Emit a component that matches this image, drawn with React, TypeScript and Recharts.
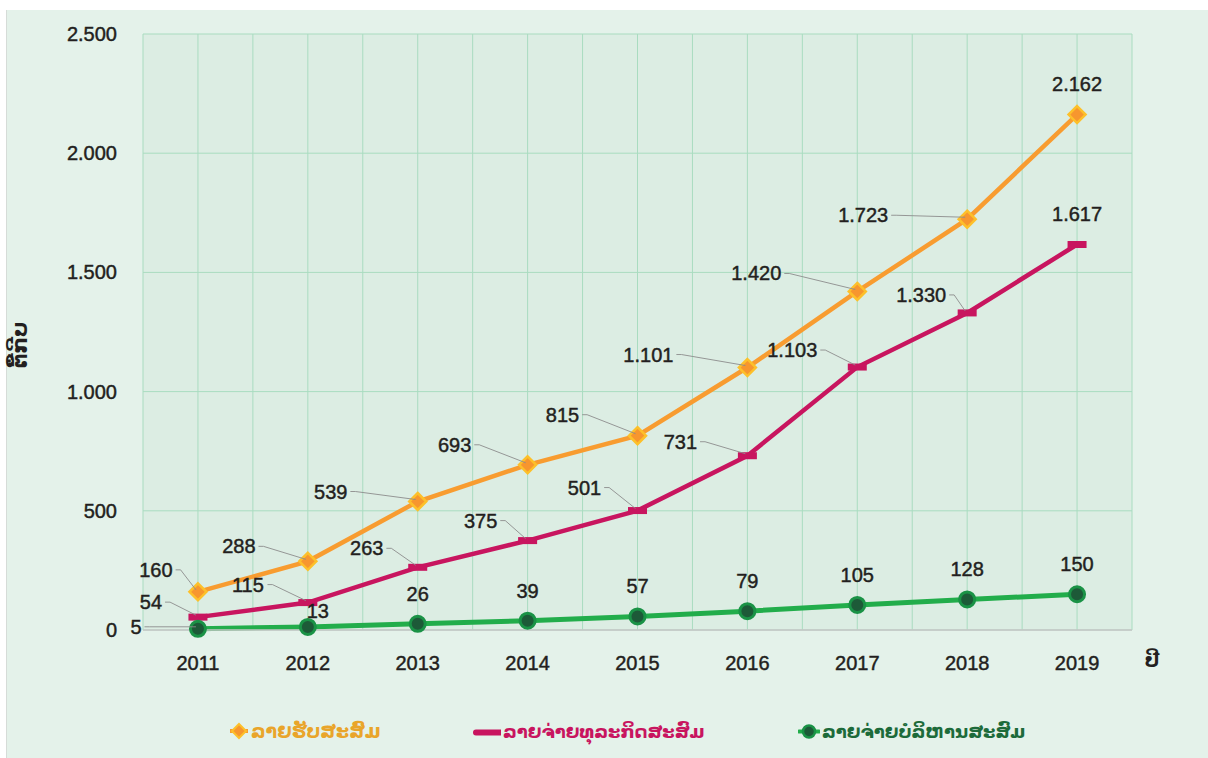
import { LineChart, Line, XAxis, YAxis, CartesianGrid, LabelList } from 'recharts'

// years on the x axis
const years = [2011, 2012, 2013, 2014, 2015, 2016, 2017, 2018, 2019]
// cumulative values (ຕື້ກີບ)
const revenue = [160, 288, 539, 693, 815, 1101, 1420, 1723, 2162]
const businessCost = [54, 115, 263, 375, 501, 731, 1103, 1330, 1617]
const adminCost = [5, 13, 26, 39, 57, 79, 105, 128, 150]

const seriesNames = ['ລາຍຮັບສະສົມ', 'ລາຍຈ່າຍທຸລະກິດສະສົມ', 'ລາຍຈ່າຍບໍລິຫານສະສົມ']
const yTicks = [0, 500, 1000, 1500, 2000, 2500]
const gridTicks = [2010.5, 2011, 2011.5, 2012, 2012.5, 2013, 2013.5, 2014, 2014.5, 2015, 2015.5, 2016, 2016.5, 2017, 2017.5, 2018, 2018.5, 2019, 2019.5]

// label placement relative to each point (layout only)
const revenueLabelPos = [[-42, -22], [-69, -15], [-87, -10], [-73, -20], [-75, -21], [-99, -13], [-101, -18], [-104, -4], [0, -31]]
const businessLabelPos = [[-47, -15], [-60, -18], [-51, -19], [-47, -20], [-53, -23], [-67, -14], [-65, -17], [-46, -18], [0, -31]]
const adminLabelPos = [[-62, -2], [10, -16], [0, -30], [0, -30], [0, -30], [0, -30], [0, -30], [0, -30], [0, -30]]

const data = years.map((y, i) => ({
  year: y,
  revenue: revenue[i],
  business: businessCost[i],
  admin: adminCost[i],
}))

const ORANGE = '#f89c30'
const MAGENTA = '#c8155f'
const GREEN = '#22ad4b'
const TEXT = '#231f20'
const NUM_FONT = "'Liberation Sans', Arial, sans-serif"
const LAO_FONT = "'DejaVu Sans', 'Noto Sans', sans-serif"

const fmt = (v: number) =>
  v >= 1000 ? `${Math.floor(v / 1000)}.${String(v % 1000).padStart(3, '0')}` : String(v)

const textWidth = (s: string) => s.split('').reduce((w, c) => w + (c === '.' ? 5.6 : 11.1), 0)

// slightly heavier digits, the source uses a medium grotesque
const numText = { fontSize: 20, fontFamily: NUM_FONT, fill: TEXT, stroke: TEXT, strokeWidth: 0.45 }

const makeLabel = (pos: number[][]) => (props: any) => {
  const { x, y, value, index } = props
  const [dx, dy] = pos[index]
  const lx = x + dx
  const ly = y + dy
  const s = fmt(Number(value))
  const w = textWidth(s)
  const sx = lx + w / 2 + 3
  return (
    <g key={`lbl-${index}`}>
      {dx < 0 && (
        <polyline
          points={`${sx},${ly} ${sx + 5},${ly} ${x - 2},${y - 2}`}
          fill="none"
          stroke="#8c8c8c"
          strokeWidth={0.9}
        />
      )}
      <text x={lx} y={ly} dy="0.35em" textAnchor="middle" {...numText}>
        {s}
      </text>
    </g>
  )
}

const DiamondDot = (props: any) => {
  const { cx, cy, index } = props
  return (
    <polygon
      key={`d-${index}`}
      points={`${cx},${cy - 8.5} ${cx + 8.5},${cy} ${cx},${cy + 8.5} ${cx - 8.5},${cy}`}
      fill="#f7962e"
      stroke="#fdc02a"
      strokeWidth={2.5}
    />
  )
}

const BarDot = (props: any) => {
  const { cx, cy, index } = props
  return <rect key={`b-${index}`} x={cx - 9.5} y={cy - 3.5} width={19} height={7} fill={MAGENTA} />
}

const CircleDot = (props: any) => {
  const { cx, cy, index } = props
  return <circle key={`c-${index}`} cx={cx} cy={cy} r={7.5} fill="#1d5a38" stroke="#1a9246" strokeWidth={3} />
}

const YTick = (props: any) => {
  const { x, y, payload } = props
  return (
    <text x={x} y={y} dy="0.35em" textAnchor="end" {...numText}>
      {fmt(payload.value)}
    </text>
  )
}

const XTick = (props: any) => {
  const { x, y, payload } = props
  return (
    <text x={x} y={y} dy="0.35em" textAnchor="middle" {...numText}>
      {payload.value}
    </text>
  )
}

const legendColors = ['#e9a52a', MAGENTA, '#1d6b3a']

function LegendIcon({ i }: { i: number }) {
  if (i === 0)
    return (
      <svg width={20} height={20}>
        <line x1={1} y1={10} x2={19} y2={10} stroke={ORANGE} strokeWidth={4} />
        <polygon points="10,3 17,10 10,17 3,10" fill="#f7962e" stroke="#fdc02a" strokeWidth={2} />
      </svg>
    )
  if (i === 1)
    return (
      <svg width={28} height={20}>
        <line x1={3} y1={11} x2={27} y2={11} stroke={MAGENTA} strokeWidth={6} strokeLinecap="round" />
      </svg>
    )
  return (
    <svg width={22} height={20}>
      <line x1={1} y1={10} x2={21} y2={10} stroke={GREEN} strokeWidth={4} strokeLinecap="round" />
      <circle cx={11} cy={10} r={6} fill="#1d5a38" stroke="#1a9246" strokeWidth={2.5} />
    </svg>
  )
}

const legendLeft = [229, 473, 798]
const legendSize = [19, 18, 18]

export default function App() {
  return (
    <div style={{ position: 'absolute', left: 0, top: 0, width: 1208, height: 758, background: '#ffffff', overflow: 'hidden' }}>
      <div
        style={{
          position: 'absolute',
          left: 6,
          top: 10,
          right: 0,
          bottom: 0,
          background: '#e4f2ea',
          borderLeft: '1px solid #d6dcd8',
        }}
      />
      <div style={{ position: 'absolute', left: 0, top: 0 }}>
        <LineChart width={1208} height={758} data={data} margin={{ top: 34, right: 76, left: 43, bottom: 88 }}>
          <CartesianGrid xAxisId="grid" fill="#dcede3" stroke="#a9dcc0" strokeWidth={1} />
          <XAxis xAxisId="grid" type="number" dataKey="year" domain={[2010.5, 2019.5]} ticks={gridTicks} hide />
          <XAxis
            type="number"
            dataKey="year"
            domain={[2010.5, 2019.5]}
            ticks={years}
            height={40}
            tickLine={false}
            axisLine={{ stroke: '#c6c6c6', strokeWidth: 1.5 }}
            tickMargin={27}
            tick={<XTick />}
          />
          <YAxis
            domain={[0, 2500]}
            ticks={yTicks}
            width={100}
            axisLine={false}
            tickLine={false}
            tickMargin={20}
            tick={<YTick />}
          />
          <Line
            dataKey="revenue"
            name={seriesNames[0]}
            type="linear"
            stroke={ORANGE}
            strokeWidth={4.5}
            dot={<DiamondDot />}
            activeDot={false}
            isAnimationActive={false}
          >
            <LabelList dataKey="revenue" content={makeLabel(revenueLabelPos)} />
          </Line>
          <Line
            dataKey="business"
            name={seriesNames[1]}
            type="linear"
            stroke={MAGENTA}
            strokeWidth={4.5}
            dot={<BarDot />}
            activeDot={false}
            isAnimationActive={false}
          >
            <LabelList dataKey="business" content={makeLabel(businessLabelPos)} />
          </Line>
          <Line
            dataKey="admin"
            name={seriesNames[2]}
            type="linear"
            stroke={GREEN}
            strokeWidth={5}
            dot={<CircleDot />}
            activeDot={false}
            isAnimationActive={false}
          >
            <LabelList dataKey="admin" content={makeLabel(adminLabelPos)} />
          </Line>
        </LineChart>
      </div>

      {/* axis titles */}
      <div
        style={{
          position: 'absolute',
          left: 20,
          top: 345,
          transform: 'translate(-50%, -50%) rotate(-90deg)',
          fontFamily: LAO_FONT,
          fontSize: 21,
          fontWeight: 'bold',
          color: TEXT,
          whiteSpace: 'nowrap',
        }}
      >
        ຕື້ກີບ
      </div>
      <div
        style={{
          position: 'absolute',
          left: 1152,
          top: 660,
          transform: 'translate(-50%, -50%)',
          fontFamily: LAO_FONT,
          fontSize: 20,
          fontWeight: 'bold',
          color: TEXT,
        }}
      >
        ປີ
      </div>

      {/* legend */}
      {seriesNames.map((n, i) => (
        <div
          key={n}
          style={{
            position: 'absolute',
            left: legendLeft[i],
            top: 731,
            transform: 'translateY(-50%)',
            display: 'flex',
            alignItems: 'center',
            gap: 2,
            fontFamily: LAO_FONT,
            fontSize: legendSize[i],
            fontWeight: 'bold',
            color: legendColors[i],
            whiteSpace: 'nowrap',
          }}
        >
          <LegendIcon i={i} />
          <span>{n}</span>
        </div>
      ))}
    </div>
  )
}
